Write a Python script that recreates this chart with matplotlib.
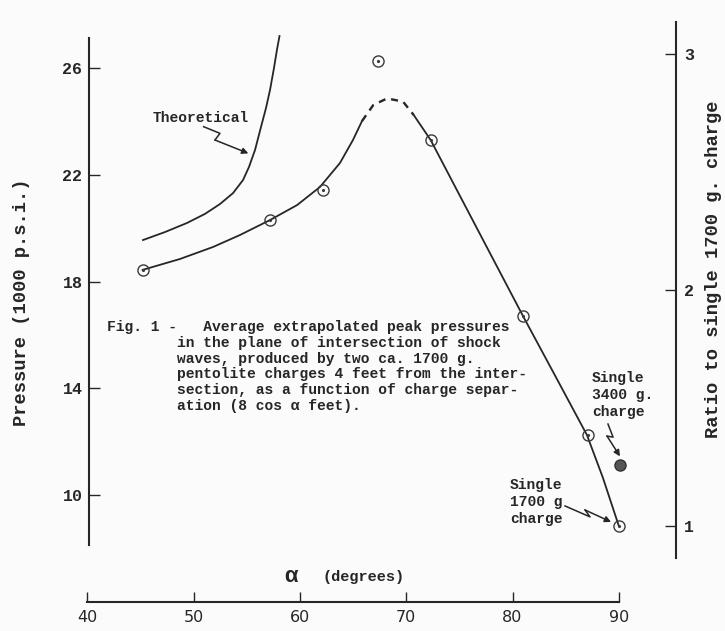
import matplotlib.pyplot as plt

plt.rcParams['font.family'] = ['Liberation Mono', 'DejaVu Sans']
plt.rcParams['font.weight'] = 'bold'

# measured peak pressures (1000 p.s.i.) against alpha (degrees)
alpha = [45.2, 57.2, 62.2, 67.3, 72.3, 81.0, 87.1, 90.0]
pressure = [18.44, 20.31, 21.44, 26.27, 23.31, 16.7, 12.25, 8.84]

# single 3400 g. charge
single_alpha = [90.1]
single_pressure = [11.12]

# pressure of a single 1700 g. charge, used for the ratio scale
p_single = 8.84

# faired curve: rising part, dashed top, falling part
rise_x = [45.2, 48.72, 51.83, 54.37, 57.19, 59.73, 61.89, 63.77, 64.99, 65.84]
rise_y = [18.44, 18.85, 19.30, 19.75, 20.31, 20.87, 21.55, 22.45, 23.31, 24.02]
peak_x = [65.84, 66.9, 68.2, 69.7, 70.7]
peak_y = [24.02, 24.62, 24.87, 24.75, 24.25]
fall_x = [70.7, 72.3, 76.6, 81.0, 84.0, 87.0, 88.5, 90.0]
fall_y = [24.25, 23.31, 20.04, 16.7, 14.48, 12.25, 10.65, 8.84]

# theoretical curve
theory_x = [45.24, 47.31, 49.38, 51.07, 52.48, 53.71, 54.65, 55.21, 55.78,
            56.34, 56.81, 57.19, 57.56, 57.84, 58.08]
theory_y = [19.56, 19.86, 20.20, 20.54, 20.91, 21.32, 21.81, 22.30, 22.94,
            23.80, 24.51, 25.19, 26.01, 26.69, 27.21]

ink = '#262626'
paper = '#fbfbfb'

fig = plt.figure(figsize=(7.25, 6.31), dpi=100, facecolor=paper)
ax = fig.add_axes([87.3 / 725, 29.3 / 631, 588.4 / 725, 579.7 / 631])
ax.set_facecolor('none')
ax.set_xlim(40, 95.35)
ax.set_ylim(6.0, 27.735)

ax.plot(rise_x, rise_y, color=ink, lw=1.3)
ax.plot(peak_x, peak_y, color=ink, lw=1.7, ls=(0, (3, 2.5)))
ax.plot(fall_x, fall_y, color=ink, lw=1.3)
ax.plot(theory_x, theory_y, color=ink, lw=1.3)

ax.plot(alpha, pressure, 'o', ms=8, mfc='none', mec='#3a3a3a', mew=1.0)
ax.plot(alpha, pressure, '.', ms=2.5, color='#3a3a3a')
ax.plot(single_alpha, single_pressure, 'o', ms=8, mfc='#555555', mec='#333333', mew=1.0)

# axes
for side in ['top', 'right']:
    ax.spines[side].set_visible(False)
ax.spines['left'].set_position(('data', 40.2))
ax.spines['left'].set_bounds(8.13, 27.14)
ax.spines['bottom'].set_bounds(40, 90)
for side in ['left', 'bottom']:
    ax.spines[side].set_linewidth(1.5)
    ax.spines[side].set_color(ink)

ax.set_xticks([40, 50, 60, 70, 80, 90])
ax.set_yticks([10, 14, 18, 22, 26])
ax.tick_params(axis='y', direction='in', length=8, width=1, pad=5,
               labelsize=12, colors=ink)
ax.tick_params(axis='x', direction='in', length=7, width=1, pad=6,
               labelsize=11.5, colors=ink)
for lbl in ax.get_xticklabels():
    lbl.set_family('DejaVu Sans')
    lbl.set_weight('normal')

ax2 = ax.twinx()
ax2.set_ylim(6.0 / p_single, 27.735 / p_single)
ax2.set_yticks([1, 2, 3])
for side in ['left', 'top', 'bottom']:
    ax2.spines[side].set_visible(False)
ax2.spines['right'].set_bounds(7.64 / p_single, 27.735 / p_single)
ax2.spines['right'].set_linewidth(1.5)
ax2.spines['right'].set_color(ink)
ax2.tick_params(axis='y', direction='in', length=8, width=1, pad=6,
                labelsize=12, colors=ink)

fig.text(22 / 725, 1 - 302 / 631, 'Pressure (1000 p.s.i.)', rotation=90,
         ha='center', va='center', fontsize=13.5, color=ink)
fig.text(714 / 725, 1 - 269 / 631, 'Ratio to single 1700 g. charge',
         rotation=90, ha='center', va='center', fontsize=13.5, color=ink)

ax.text(59.2, 6.93, 'α', fontsize=16, ha='center', va='center', color=ink)
ax.text(62.1, 6.93, '(degrees)', fontsize=11, ha='left', va='center',
        color=ink)

caption = ('Fig. 1 -   Average extrapolated peak pressures\n'
           '        in the plane of intersection of shock\n'
           '        waves, produced by two ca. 1700 g.\n'
           '        pentolite charges 4 feet from the inter-\n'
           '        section, as a function of charge separ-\n'
           '        ation (8 cos α feet).')
ax.text(41.85, 16.56, caption, fontsize=10.5, ha='left', va='top',
        linespacing=1.16, color=ink)

ax.text(46.18, 24.14, 'Theoretical', fontsize=10.5, ha='left',
        va='center', color=ink)
ax.text(87.46, 14.65, 'Single\n3400 g.\ncharge', fontsize=10.5,
        ha='left', va='top', linespacing=1.27, color=ink)
ax.text(79.77, 10.64, 'Single\n1700 g\ncharge', fontsize=10.5,
        ha='left', va='top', linespacing=1.27, color=ink)

# zig-zag pointers to the curves and points
pointers = [
    [(50.94, 23.81), (52.48, 23.56), (52.01, 23.31), (55.15, 22.81)],
    [(88.98, 12.66), (89.46, 12.17), (88.89, 12.21), (90.11, 11.45)],
    [(84.94, 9.59), (87.29, 9.18), (86.82, 9.44), (89.27, 8.99)],
]
for pts in pointers:
    xs = [p[0] for p in pts[:-1]]
    ys = [p[1] for p in pts[:-1]]
    ax.plot(xs, ys, color=ink, lw=1.1)
    ax.annotate('', xy=pts[-1], xytext=pts[-2],
                arrowprops=dict(arrowstyle='-|>', color=ink, lw=1.1,
                                mutation_scale=9, shrinkA=0, shrinkB=0))

fig.savefig('out.png', dpi=100, facecolor=paper)
